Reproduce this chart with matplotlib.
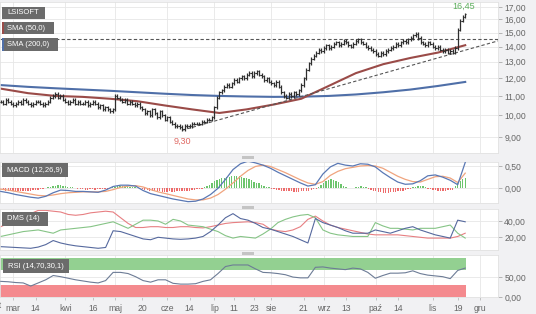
import numpy as np
import pandas as pd
import matplotlib
matplotlib.use("Agg")
import matplotlib.pyplot as plt
from matplotlib.patches import Rectangle
from matplotlib.ticker import FixedLocator, NullLocator, FuncFormatter

plt.rcParams['font.family'] = ['Liberation Sans', 'DejaVu Sans']

# ---------------- data ----------------
ticker = "LSISOFT"
start_date = "2019-02-22"
end_date = "2019-12-31"
holidays = ["2019-04-19", "2019-04-22", "2019-05-01", "2019-05-03", "2019-06-20",
            "2019-08-15", "2019-11-01", "2019-11-11", "2019-12-24", "2019-12-25", "2019-12-26"]

close = [10.7, 10.6, 10.8, 10.7, 10.6, 10.5,
         10.6, 10.7, 10.6, 10.8, 10.7, 10.6, 10.5, 10.6, 10.7, 10.7, 10.6, 10.5, 10.6, 10.7,
         10.9, 11.0, 11.1, 10.9, 11.0,
         10.8, 10.7, 10.6, 10.7, 10.8, 10.6, 10.7, 10.6, 10.6, 10.7, 10.5, 10.6, 10.7, 10.6, 10.4, 10.5,
         10.3, 10.4, 10.3, 10.2, 10.3,
         11.0,
         10.9, 10.8, 10.7, 10.8, 10.6, 10.7, 10.6, 10.5, 10.6, 10.4,
         10.3, 10.1, 10.2, 10.0, 10.3, 10.1, 9.9, 10.2, 10.0, 9.8, 9.9,
         9.7, 9.6, 9.5, 9.5, 9.45,
         9.35,
         9.5, 9.5, 9.5, 9.6, 9.6, 9.6, 9.6, 9.7, 9.7, 9.8, 9.8, 9.9,
         10.4, 10.9, 11.2,
         11.3, 11.5, 11.6, 11.5, 11.7, 11.9, 11.8,
         12.0, 12.1, 12.0, 12.2, 12.3, 12.1, 12.3, 12.4, 12.2, 12.1,
         11.9, 12.0, 11.8, 11.7, 11.6, 11.8, 11.5,
         11.2, 11.0, 10.9, 11.1, 11.0, 11.2, 11.1, 11.3,
         11.6, 12.0, 12.5, 12.9, 13.2, 13.4,
         13.6, 13.8, 13.7, 13.9, 14.1, 13.9, 14.0, 14.2, 14.3,
         14.1, 14.2, 14.4, 14.3, 14.1, 14.0, 14.2, 14.4, 14.5, 14.3, 14.2, 14.0, 13.9, 13.8, 13.7,
         13.5, 13.4, 13.6, 13.5, 13.7, 13.8,
         13.9, 14.0, 14.2, 14.1, 14.3, 14.4, 14.3, 14.5, 14.6,
         14.8, 14.9, 14.6,
         14.3, 14.2, 14.1, 14.3, 14.2, 14.0, 13.9, 14.0, 13.8, 13.7, 13.8, 13.6,
         13.7, 13.6, 13.9,
         15.2, 15.9, 16.2, 16.4]

sma50 = [11.4, 11.15, 11.0, 10.95, 10.85, 10.72, 10.5, 10.3, 10.12, 10.3, 10.55, 10.85,
         11.55, 12.3, 12.85, 13.25, 13.6, 14.1]
sma200 = [11.6, 11.5, 11.42, 11.35, 11.28, 11.2, 11.12, 11.05, 11.0, 10.97, 10.95, 10.96,
          11.0, 11.08, 11.2, 11.35, 11.55, 11.78]

macd = [-0.07, -0.10, -0.14, -0.17, -0.20, -0.22, -0.18, -0.10, -0.04, -0.05,
        -0.07, -0.07, -0.08, -0.09, -0.04, 0.04, 0.07, 0.07, 0.05, -0.05,
        -0.12, -0.16, -0.20, -0.24, -0.27, -0.30, -0.29, -0.24, -0.14, 0.00,
        0.20, 0.42, 0.55, 0.61, 0.57, 0.52, 0.45, 0.36, 0.28, 0.20,
        0.12, 0.05, 0.08, 0.32, 0.48, 0.56, 0.52, 0.50, 0.55, 0.54,
        0.48, 0.35, 0.24, 0.14, 0.09, 0.10, 0.17, 0.28, 0.30, 0.25,
        0.18, 0.08, 0.58]
signal = [-0.02, -0.04, -0.07, -0.10, -0.13, -0.16, -0.17, -0.15, -0.12, -0.10,
          -0.09, -0.08, -0.08, -0.08, -0.07, -0.03, 0.02, 0.05, 0.06, 0.03,
          -0.03, -0.08, -0.12, -0.16, -0.20, -0.24, -0.26, -0.26, -0.22, -0.14,
          -0.02, 0.12, 0.27, 0.40, 0.49, 0.52, 0.49, 0.42, 0.35, 0.27,
          0.19, 0.12, 0.09, 0.15, 0.29, 0.38, 0.44, 0.47, 0.50, 0.51,
          0.50, 0.45, 0.36, 0.27, 0.20, 0.15, 0.14, 0.20, 0.26, 0.27,
          0.23, 0.13, 0.34]
hist = [-0.03, -0.04, -0.05, -0.05, -0.06, -0.06, -0.06, -0.05, -0.06, -0.06, -0.06, -0.05, -0.05, -0.04, -0.04, -0.03, -0.02, -0.01, 0.0,
        0.02, 0.04, 0.05, 0.06, 0.07, 0.07, 0.06, 0.05, 0.04, 0.03, 0.02, 0.01,
        -0.01, -0.02, -0.02, -0.03, -0.03, -0.02, -0.02, -0.03, -0.02, -0.02, -0.01, -0.01, -0.01, 0.0,
        0.02, 0.04, 0.05, 0.06, 0.06, 0.05, 0.05, 0.04, 0.03, 0.02, 0.01, 0.0,
        -0.02, -0.03, -0.04, -0.05, -0.06, -0.06, -0.07, -0.07, -0.08, -0.08, -0.08, -0.07, -0.08, -0.08, -0.07, -0.07, -0.06, -0.06, -0.05, -0.05, -0.04, -0.03, -0.02, -0.02, -0.01,
        0.02, 0.05, 0.08, 0.12, 0.16, 0.19, 0.21, 0.22, 0.24, 0.25, 0.26, 0.27, 0.28, 0.27, 0.27, 0.26, 0.24, 0.22, 0.20, 0.18, 0.15, 0.13, 0.11, 0.08, 0.06, 0.04, 0.02,
        -0.01, -0.02, -0.03, -0.04, -0.05, -0.05, -0.06, -0.07, -0.07, -0.08, -0.08, -0.08, -0.07, -0.07, -0.06, -0.05, -0.04, -0.02, -0.01,
        0.03, 0.08, 0.13, 0.17, 0.19, 0.20, 0.19, 0.17, 0.14, 0.10, 0.06, 0.03,
        0.01, 0.0, 0.01,
        0.03, 0.04, 0.05, 0.04, 0.02,
        -0.01, -0.03, -0.05, -0.07, -0.08, -0.09, -0.1, -0.1, -0.1, -0.09, -0.09, -0.08, -0.07, -0.06, -0.05, -0.04, -0.02, -0.01,
        0.02, 0.04, 0.06, 0.06, 0.05, 0.03,
        -0.01, -0.02, -0.03, -0.04, -0.05, -0.05, -0.05, -0.05, -0.04, -0.04, -0.03,
        0.05, 0.12, 0.17, 0.21, 0.24]

dms_red = [33, 37, 41, 45, 49, 53, 53, 52, 51, 48, 47, 48, 50, 51, 52, 51, 44, 37, 32, 32,
           33, 33, 32, 32, 33, 33, 32, 31.5, 33, 35, 37, 38, 38.5, 39, 38, 36, 30, 28, 27, 29,
           33, 42, 46, 40, 35, 32, 30, 28, 26, 24, 23, 23, 23, 23, 22, 21, 20, 19, 19, 19,
           19, 21, 25]
dms_green = [21, 23, 25, 27, 28, 29, 27, 25, 29, 30, 31, 32, 33, 35, 37, 39, 35, 31, 36, 41,
             41, 40, 36, 42, 40, 35, 34, 33, 30, 27, 22, 19, 21, 20, 19, 24, 30, 38, 42, 45,
             47, 48, 44, 29, 25, 23, 22, 21, 21, 21, 38, 34, 31, 31, 30, 29, 31, 31, 31, 33,
             35, 25, 19]
dms_blue = [8.5, 8, 7.5, 7, 6.5, 8, 11, 16, 13, 11, 9.5, 8.5, 7.5, 6.5, 7.5, 28, 27, 24, 21, 18,
            17, 20, 19, 18, 17.5, 18, 19, 21, 27, 35, 44, 49, 43, 41, 37, 32, 30, 27, 24, 21,
            17, 13, 43, 38, 35, 32, 28, 25, 25, 25, 29, 27, 25, 28, 31, 33, 29, 26, 23, 21,
            19, 41, 39]
rsi = [40, 39, 37, 36, 28, 36, 44, 55, 52, 48, 44, 41, 38, 36, 42, 63, 63, 60, 52, 42,
       38, 44, 44, 35, 33, 33, 34, 40, 44, 60, 78, 82, 82, 82, 72, 63, 62, 60, 57, 51,
       49, 49, 76, 77, 74, 72, 70, 74, 72, 63, 48, 55, 61, 61, 62, 67, 60, 56, 54, 52,
       47, 68, 74]

price_ticks = [9, 10, 11, 12, 13, 14, 15, 16, 17]
macd_ticks = [0.0, 0.5]
dms_ticks = [20, 40]
rsi_ticks = [0, 50]
rsi_upper = 70
rsi_lower = 30
resistance_level = 14.5
trend_end_value = 14.4
low_label = "9,30"
high_label = "16,45"
low_value = 9.30
high_value = 16.45
month_ticks = [("2019-03-01", "mar"), ("2019-04-01", "kwi"), ("2019-05-02", "maj"),
               ("2019-06-03", "cze"), ("2019-07-01", "lip"), ("2019-08-01", "sie"),
               ("2019-09-02", "wrz"), ("2019-10-01", "paź"), ("2019-11-04", "lis"),
               ("2019-12-02", "gru")]
day_ticks = [("2019-03-14", "14"), ("2019-04-16", "16"), ("2019-05-20", "20"),
             ("2019-06-14", "14"), ("2019-07-11", "11"), ("2019-07-23", "23"),
             ("2019-08-21", "21"), ("2019-09-13", "13"), ("2019-10-14", "14"),
             ("2019-11-19", "19")]

# ---------------- layout ----------------
W, H = 536, 314
fig = plt.figure(figsize=(W / 100, H / 100), dpi=100)
fig.patch.set_facecolor('#f1f1f3')

bdays = pd.bdate_range(start_date, end_date, freq='C', holidays=holidays)
pos = {d.strftime('%Y-%m-%d'): i for i, d in enumerate(bdays)}

n = len(close)
days = np.arange(n)
x_ind = np.linspace(0, n - 1, len(macd))
x_sma = np.linspace(0, n - 1, len(sma50))
opens = np.array([close[0]] + close[:-1])
closes = np.array(close)

right = 498 / W


def panel(top, bottom):
    return fig.add_axes([0, 1 - bottom / H, right, (bottom - top) / H])


ax_p = panel(2, 153)
ax_m = panel(162, 203)
ax_d = panel(209, 250)
ax_r = panel(255, 297)
axes = [ax_p, ax_m, ax_d, ax_r]

xlim = (-0.3, 200.2)
grid_c = '#e7e7e7'
lbl_c = '#666666'
fmt = FuncFormatter(lambda v, p: f"{v:.2f}".replace('.', ','))

for ax in axes:
    ax.set_facecolor('white')
    ax.set_xlim(*xlim)
    for s in ax.spines.values():
        s.set_color('#e2e2e2')
        s.set_linewidth(0.6)
    ax.yaxis.tick_right()
    ax.tick_params(axis='y', which='both', direction='out', length=3, width=0.6,
                   color='#aaaaaa', labelsize=6.2, labelcolor=lbl_c, pad=1.5)
    ax.tick_params(axis='x', which='both', length=0, labelbottom=False)
    ax.yaxis.set_major_formatter(fmt)
    ax.grid(axis='y', color=grid_c, lw=0.6)
    ax.set_axisbelow(True)
    for d, _ in month_ticks:
        ax.axvline(pos[d], color=grid_c, lw=0.6, zorder=0)

# ---- price panel ----
ax_p.set_yscale('log')
ax_p.set_ylim(8.32, 17.42)
ax_p.yaxis.set_major_locator(FixedLocator(price_ticks))
ax_p.yaxis.set_minor_locator(NullLocator())
ax_p.yaxis.set_major_formatter(fmt)
ax_p.yaxis.set_minor_formatter(FuncFormatter(lambda v, p: ""))

lo = np.minimum(opens, closes)
hi = np.maximum(opens, closes)
bar_c = '#2e2e2e'
ax_p.vlines(days, lo * 0.992, hi * 1.008, color=bar_c, lw=0.9, zorder=3)
ax_p.hlines(opens, days - 0.5, days, color=bar_c, lw=0.8, zorder=3)
ax_p.hlines(closes, days, days + 0.5, color=bar_c, lw=0.8, zorder=3)

ax_p.plot(x_sma, sma200, color='#4f6fa8', lw=1.5, zorder=2)
ax_p.plot(x_sma, sma50, color='#9a4b48', lw=1.5, zorder=2)

ax_p.axhline(resistance_level, color='#555555', lw=0.8, dashes=(3, 2), zorder=2)
low_idx = int(np.argmin(closes))
ax_p.plot([low_idx, xlim[1]], [low_value, trend_end_value], color='#555555', lw=0.8,
          dashes=(3, 2), zorder=2)
ax_p.text(low_idx, low_value * 0.968, low_label, color='#e06a64', fontsize=6.5,
          ha='center', va='top')
ax_p.text(n - 1.5, high_value * 1.012, high_label, color='#5cae5c', fontsize=6.5,
          ha='center', va='bottom')

# ---- MACD panel ----
ax_m.set_ylim(-0.33, 0.59)
ax_m.yaxis.set_major_locator(FixedLocator(macd_ticks))
h = np.array(hist)
ax_m.bar(days, h, width=0.55, color=np.where(h >= 0, '#6cc46c', '#ee6b6b'), zorder=2)
ax_m.plot(x_ind, signal, color='#f0a47e', lw=0.9, zorder=3)
ax_m.plot(x_ind, macd, color='#5a78b4', lw=0.9, zorder=3)

# ---- DMS panel ----
ax_d.set_ylim(4.4, 54.7)
ax_d.yaxis.set_major_locator(FixedLocator(dms_ticks))
ax_d.plot(x_ind, dms_red, color='#e77f82', lw=0.8)
ax_d.plot(x_ind, dms_green, color='#86c486', lw=0.8)
ax_d.plot(x_ind, dms_blue, color='#56699e', lw=0.8)

# ---- RSI panel ----
ax_r.set_ylim(0, 107.5)
ax_r.yaxis.set_major_locator(FixedLocator(rsi_ticks))
ax_r.fill_between([-0.5, n - 0.5], rsi_upper, 100, color='#93d091', lw=0, zorder=1)
ax_r.fill_between([-0.5, n - 0.5], 0, rsi_lower, color='#f48a8e', lw=0, zorder=1)
ax_r.plot(x_ind, rsi, color='#6d7c96', lw=0.8, zorder=3)

# x labels on bottom panel
ticks = [(pos[d], l) for d, l in month_ticks + day_ticks]
ticks.sort()
ax_r.set_xticks([t for t, _ in ticks])
ax_r.set_xticklabels([l for _, l in ticks])
ax_r.tick_params(axis='x', length=2, width=0.6, color='#bbbbbb', labelbottom=True,
                 labelsize=6.2, labelcolor=lbl_c, pad=3)
ax_r.set_xlim(*xlim)
fig.text(-3 / W, 1 - 306 / H, "lut", fontsize=6.2, color=lbl_c, ha='center', va='center')


# ---- label boxes ----
def label_box(x0, y0, w, h_, text, edge=None):
    fig.patches.append(Rectangle((x0 / W, 1 - (y0 + h_) / H), w / W, h_ / H,
                                 transform=fig.transFigure, facecolor='#6b6b6b',
                                 edgecolor='none', zorder=5))
    if edge:
        fig.patches.append(Rectangle((x0 / W, 1 - (y0 + h_) / H), 2 / W, h_ / H,
                                     transform=fig.transFigure, facecolor=edge,
                                     edgecolor='none', zorder=6))
    fig.text((x0 + 5) / W, 1 - (y0 + h_ / 2) / H, text, color='white', fontsize=5.5,
             ha='left', va='center', zorder=7)


label_box(2, 7, 43, 11.5, ticker)
label_box(2, 22, 52, 12, "SMA (50,0)", edge='#9a4b48')
label_box(2, 38, 56, 13, "SMA (200,0)", edge='#4f6fa8')
label_box(2, 163, 66, 14, "MACD (12,26,9)")
label_box(2, 212, 46, 14, "DMS (14)")
label_box(3, 259, 66, 14, "RSI (14,70,30,1)")

# separator handles
for yy in (157, 207, 253):
    fig.patches.append(Rectangle((242 / W, 1 - (yy + 2) / H), 12 / W, 3 / H,
                                 transform=fig.transFigure, facecolor='#c4c4c4',
                                 edgecolor='none', zorder=5))

fig.savefig("out.png", dpi=100, facecolor=fig.get_facecolor())
